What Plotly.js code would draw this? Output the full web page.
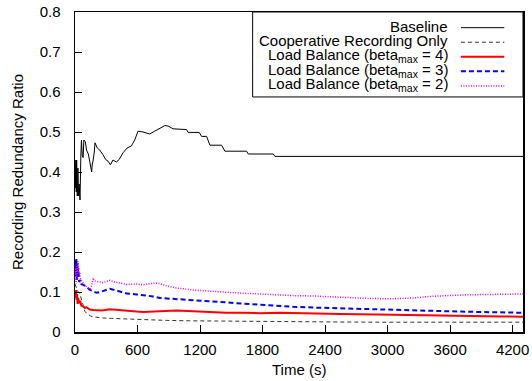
<!DOCTYPE html>
<html>
<head>
<meta charset="utf-8">
<script src="https://cdn.plot.ly/plotly-3.0.1.min.js"></script>
<style>html,body{margin:0;padding:0;background:#fff;}#chart{width:532px;height:381px;}</style>
</head>
<body>
<div id="chart"></div>
<script>
// ---- data ----
const seriesNames = [
  'Baseline',
  'Cooperative Recording Only',
  'Load Balance (beta<sub>max</sub> = 4)',
  'Load Balance (beta<sub>max</sub> = 3)',
  'Load Balance (beta<sub>max</sub> = 2)'
];

const baselineT = [0,4,8,12,16,22,28,34,40,48,56,62,70,78,85,100,110,128,141,150,160,166,173,185,192,214,237,269,295,317,340,365,397,423,461,500,541,573,605,653,717,765,813,862,894,942,1071,1086,1192,1215,1263,1295,1407,1439,1647,1663,1903,1919,4300];
const baselineY = [0.42,0.36,0.43,0.35,0.43,0.34,0.41,0.34,0.37,0.33,0.44,0.48,0.44,0.436,0.48,0.475,0.455,0.445,0.427,0.41,0.40,0.42,0.427,0.45,0.473,0.46,0.455,0.443,0.431,0.427,0.418,0.43,0.425,0.431,0.448,0.46,0.465,0.48,0.502,0.50,0.495,0.502,0.508,0.516,0.515,0.508,0.506,0.499,0.499,0.489,0.489,0.467,0.467,0.452,0.452,0.445,0.445,0.439,0.439];

const coopT = [0,10,22,30,45,58,71,82,94,110,126,150,174,220,270,350,430,590,700,879,1100,1400,1775,2200,2544,3000,3600,4300];
const coopY = [0.12,0.11,0.105,0.10,0.098,0.085,0.073,0.06,0.052,0.047,0.044,0.04,0.038,0.036,0.035,0.034,0.033,0.031,0.030,0.029,0.028,0.027,0.026,0.025,0.025,0.0245,0.0245,0.0245];

const lb4T = [0,5,10,15,20,25,30,40,50,60,78,95,110,142,175,206,260,334,400,462,590,654,750,814,900,975,1135,1295,1455,1615,1775,1967,2256,2544,2900,3249,3600,3890,4100,4300];
const lb4Y = [0.10,0.085,0.105,0.08,0.095,0.07,0.085,0.072,0.078,0.066,0.064,0.06,0.062,0.056,0.055,0.054,0.054,0.057,0.055,0.054,0.051,0.05,0.051,0.052,0.053,0.054,0.052,0.05,0.048,0.048,0.047,0.048,0.046,0.045,0.044,0.043,0.042,0.040,0.039,0.038];

const lb3T = [0,5,10,13,18,22,27,32,40,50,60,78,110,140,174,206,240,270,300,334,380,430,500,590,750,814,879,1000,1135,1300,1455,1600,1775,1967,2096,2300,2544,2800,3000,3249,3500,3700,3890,4100,4300];
const lb3Y = [0.15,0.18,0.14,0.185,0.13,0.175,0.14,0.16,0.125,0.13,0.12,0.118,0.114,0.106,0.102,0.098,0.10,0.102,0.105,0.108,0.105,0.102,0.096,0.094,0.089,0.085,0.084,0.082,0.080,0.077,0.074,0.071,0.068,0.065,0.063,0.061,0.059,0.057,0.056,0.055,0.053,0.051,0.050,0.049,0.048];

const lb2T = [0,5,10,13,20,29,35,45,55,65,78,100,126,145,158,174,185,206,240,270,300,334,380,430,500,590,650,700,750,814,879,975,1135,1300,1455,1600,1775,1967,2096,2288,2450,2608,2800,3024,3249,3409,3550,3762,4000,4179,4300];
const lb2Y = [0.13,0.16,0.12,0.164,0.14,0.177,0.15,0.148,0.13,0.128,0.123,0.115,0.11,0.108,0.115,0.135,0.128,0.127,0.124,0.123,0.126,0.129,0.125,0.123,0.119,0.12,0.118,0.12,0.122,0.121,0.115,0.11,0.105,0.102,0.099,0.097,0.095,0.092,0.091,0.09,0.088,0.086,0.084,0.083,0.085,0.089,0.091,0.093,0.094,0.095,0.095];

const xTicks = [0,600,1200,1800,2400,3000,3600,4200];
const yTicks = [0,0.1,0.2,0.3,0.4,0.5,0.6,0.7,0.8];

// ---- styles ----
const styles = [
  {color:'#000000', width:1, dash:'solid'},
  {color:'#333333', width:1, dash:'4px,3px'},
  {color:'#ff0000', width:2, dash:'solid'},
  {color:'#0000ff', width:2, dash:'5px,3px'},
  {color:'#ff00ff', width:1.5, dash:'1px,1.5px'}
];
const xs = [baselineT, coopT, lb4T, lb3T, lb2T];
const ys = [baselineY, coopY, lb4Y, lb3Y, lb2Y];

const traces = xs.map((x,i)=>({
  x: x, y: ys[i], type:'scatter', mode:'lines', name: seriesNames[i],
  line: {color: styles[i].color, width: styles[i].width, dash: styles[i].dash, shape:'linear'},
  hoverinfo:'skip'
}));

const font = {family:'"Liberation Sans", Arial, sans-serif', size:15, color:'#000'};

// legend (gnuplot-style: text right-aligned, sample on the right)
const legTop = 0.955, legStep = 0.0455;
const annotations = seriesNames.map((n,i)=>({
  xref:'paper', yref:'paper', x:0.8375, y: legTop - i*legStep,
  xanchor:'right', yanchor:'middle', text:n, showarrow:false, font:font
}));
annotations.push({xref:'paper', yref:'paper', x:0.5, y:-0.117, xanchor:'center', yanchor:'middle', text:'Time (s)', showarrow:false, font:font});

const shapes = [{type:'rect', xref:'paper', yref:'paper', x0:0.3965, x1:1, y0:0.7345, y1:1, line:{color:'#000', width:1}}];
seriesNames.forEach((n,i)=>{
  const yy = legTop - i*legStep - 0.004;
  shapes.push({type:'line', xref:'paper', yref:'paper', x0:0.8614, x1:0.9583, y0:yy, y1:yy,
    line:{color:styles[i].color, width:styles[i].width, dash:styles[i].dash}});
});

const layout = {
  width:532, height:381,
  margin:{l:75.3, r:9.3, t:12.3, b:48.5, pad:0},
  paper_bgcolor:'#fff', plot_bgcolor:'#fff',
  showlegend:false,
  font: font,
  xaxis:{
    range:[0,4300], tickvals:xTicks, ticktext:xTicks.map(String),
    ticks:'inside', ticklen:7, tickwidth:1, tickcolor:'#000',
    showline:true, linecolor:'#000', linewidth:1.5, mirror:true,
    showgrid:false, zeroline:false, ticklabelstandoff:3,
    tickfont:font
  },
  yaxis:{
    title:{text:'Recording Redundancy Ratio', font:font, standoff:12},
    range:[0,0.8], tickvals:yTicks, ticktext:yTicks.map(v=>String(v)),
    ticks:'inside', ticklen:7, tickwidth:1, tickcolor:'#000',
    showline:true, linecolor:'#000', linewidth:1.5, mirror:true,
    showgrid:false, zeroline:false, ticklabelstandoff:10,
    tickfont:font
  },
  annotations: annotations,
  shapes: shapes
};

Plotly.newPlot('chart', traces, layout, {staticPlot:true, displayModeBar:false});
</script>
</body>
</html>
